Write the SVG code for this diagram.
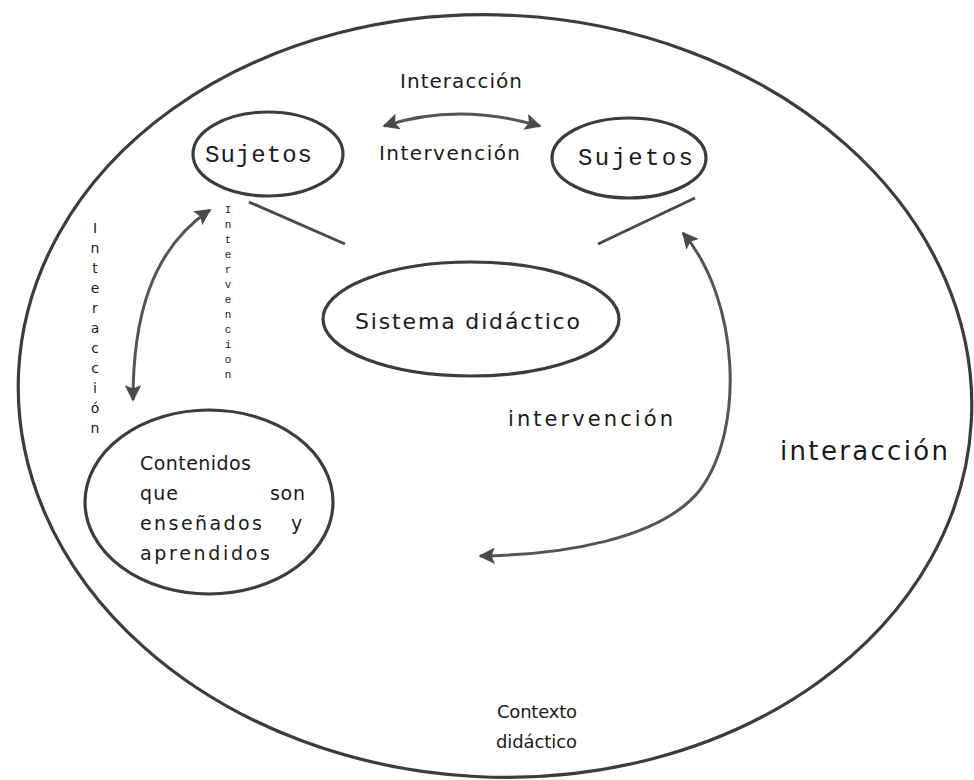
<svg xmlns="http://www.w3.org/2000/svg" width="974" height="780" viewBox="0 0 974 780">
<defs>
<marker id="ah" viewBox="0 0 10 10" refX="9" refY="5" markerWidth="5.5" markerHeight="5.5" orient="auto-start-reverse" markerUnits="strokeWidth">
<path d="M0,0 L10,5 L0,10 L2,5 Z" fill="#4a4a4a"/>
</marker>
</defs>
<style>
.shape{fill:none;stroke:#3c3c3c;stroke-width:3.2}
.conn{fill:none;stroke:#4a4a4a;stroke-width:3}
.arr{fill:none;stroke:#555;stroke-width:3;marker-start:url(#ah);marker-end:url(#ah)}
.hand{font-family:"DejaVu Sans","Liberation Sans",sans-serif;fill:#1a1a1a}
.mono{font-family:"Liberation Mono","DejaVu Sans Mono",monospace;fill:#1a1a1a}
.v1{font-family:"DejaVu Sans","Liberation Sans",sans-serif;font-size:14px;fill:#1a1a1a;text-anchor:middle}
.v2{font-family:"Liberation Mono","DejaVu Sans Mono",monospace;font-size:11px;fill:#1a1a1a;text-anchor:middle}
</style>
<rect width="974" height="780" fill="#ffffff"/>
<g id="contexto">
<ellipse class="shape" cx="495" cy="396" rx="477" ry="381" transform="rotate(3 495 396)"/>
<text class="hand" x="497" y="718" font-size="18" textLength="80">Contexto</text>
<text class="hand" x="496" y="748" font-size="18" textLength="81">didáctico</text>
</g>
<g id="sujetos1">
<ellipse class="shape" cx="268" cy="154" rx="75" ry="42"/>
<text class="mono" x="205" y="162" font-size="24" textLength="107">Sujetos</text>
</g>
<g id="sujetos2">
<ellipse class="shape" cx="629" cy="158" rx="77" ry="40"/>
<text class="mono" x="578" y="165" font-size="24" textLength="115">Sujetos</text>
</g>
<g id="sistema">
<ellipse class="shape" cx="471" cy="319" rx="148" ry="57"/>
<text class="hand" x="355" y="329" font-size="22" textLength="225">Sistema didáctico</text>
</g>
<g id="contenidos">
<ellipse class="shape" cx="209" cy="502" rx="124" ry="92"/>
<text class="hand" x="140" y="470" font-size="19" textLength="111">Contenidos</text>
<text class="hand" x="140" y="500" font-size="19" textLength="38">que</text>
<text class="hand" x="270" y="500" font-size="19" textLength="35">son</text>
<text class="hand" x="140" y="530" font-size="19" textLength="122">enseñados</text>
<text class="hand" x="291" y="530" font-size="19">y</text>
<text class="hand" x="140" y="560" font-size="19" textLength="130">aprendidos</text>
</g>
<g id="connectors">
<line class="conn" x1="249" y1="202" x2="345" y2="244"/>
<line class="conn" x1="598" y1="244" x2="695" y2="198"/>
<path class="arr" d="M384,126 Q458,102 540,126"/>
<path class="arr" d="M133,400 C133,320 150,250 210,210"/>
<path class="arr" d="M683,233 C740,300 745,430 700,490 C660,540 560,555 480,556"/>
</g>
<g id="labels">
<text class="hand" x="400" y="88" font-size="20" textLength="122">Interacción</text>
<text class="hand" x="379" y="160" font-size="20" textLength="141">Intervención</text>
<text class="hand" x="508" y="426" font-size="21" textLength="165">intervención</text>
<text class="hand" x="780" y="460" font-size="26" textLength="168">interacción</text>
</g>
<g id="label-interaccion-vertical">
<text class="v1" x="95" y="233">I</text>
<text class="v1" x="95" y="253">n</text>
<text class="v1" x="95" y="273">t</text>
<text class="v1" x="95" y="293">e</text>
<text class="v1" x="95" y="313">r</text>
<text class="v1" x="95" y="333">a</text>
<text class="v1" x="95" y="353">c</text>
<text class="v1" x="95" y="373">c</text>
<text class="v1" x="95" y="393">i</text>
<text class="v1" x="95" y="413">ó</text>
<text class="v1" x="95" y="433">n</text>
</g>
<g id="label-intervencion-vertical">
<text class="v2" x="228" y="213">I</text>
<text class="v2" x="228" y="228">n</text>
<text class="v2" x="228" y="243">t</text>
<text class="v2" x="228" y="258">e</text>
<text class="v2" x="228" y="273">r</text>
<text class="v2" x="228" y="288">v</text>
<text class="v2" x="228" y="303">e</text>
<text class="v2" x="228" y="318">n</text>
<text class="v2" x="228" y="333">c</text>
<text class="v2" x="228" y="348">i</text>
<text class="v2" x="228" y="363">o</text>
<text class="v2" x="228" y="378">n</text>
</g>
</svg>
